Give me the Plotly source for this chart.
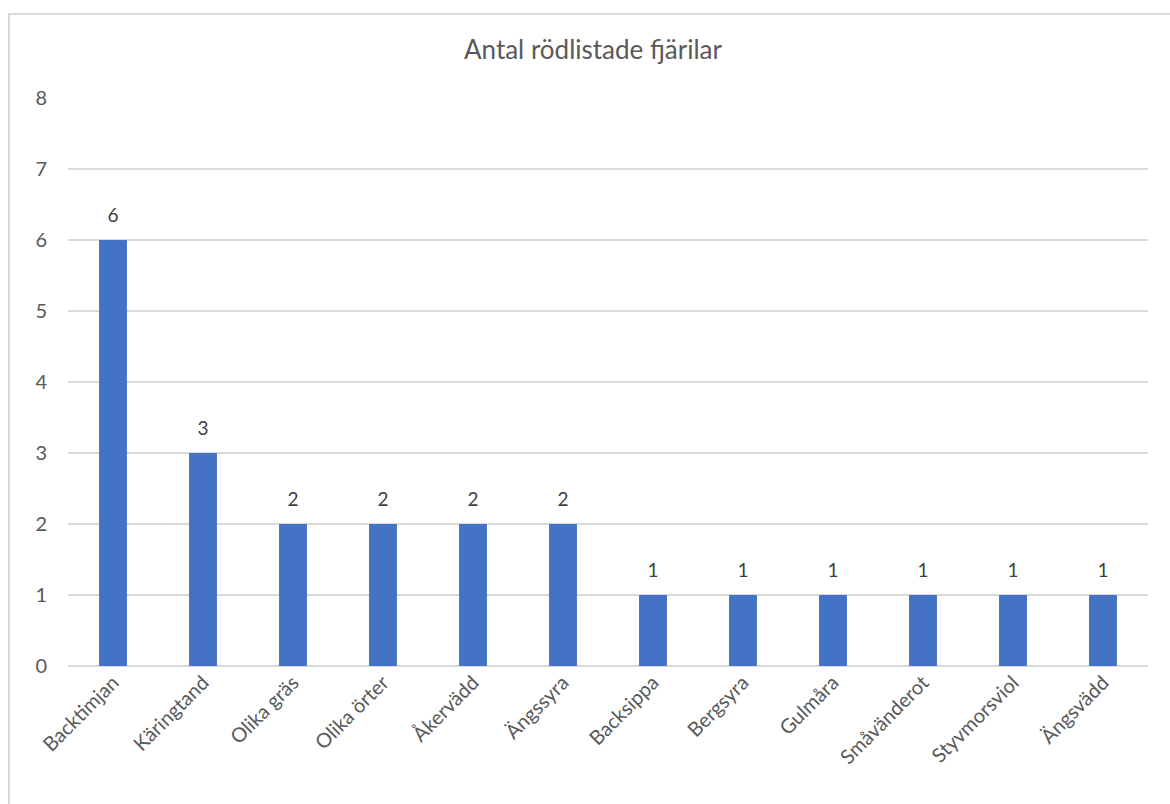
import plotly.graph_objects as go

categories = ["Backtimjan", "Käringtand", "Olika gräs", "Olika örter", "Åkervädd", "Ängssyra",
              "Backsippa", "Bergsyra", "Gulmåra", "Småvänderot", "Styvmorsviol", "Ängsvädd"]
values = [6, 3, 2, 2, 2, 2, 1, 1, 1, 1, 1, 1]
title_text = "Antal rödlistade fjärilar"

FONT = "Lato, 'Open Sans', sans-serif"

fig = go.Figure(go.Bar(
    x=categories, y=values,
    marker=dict(color="#4472C4", line=dict(width=0)),
    width=0.31,
    text=values, textposition="outside",
    texttemplate="<span style='font-size:19px'>%{y}</span><br> ",
    textfont=dict(size=10, color="#404040", family=FONT),
    cliponaxis=False,
))

L, R, T, B = 68, 1148, 98, 666
W, H = 1170, 804
pw, ph = R - L, B - T

def px(x):
    return (x - L) / pw

def py(y):
    return (B - y) / ph

fig.add_shape(type="rect", xref="paper", yref="paper",
              x0=px(9), x1=px(1180), y0=py(820), y1=py(14),
              line=dict(color="#D9D9D9", width=2), fillcolor="rgba(0,0,0,0)", layer="below")

fig.update_layout(
    width=W, height=H,
    margin=dict(l=L, r=W - R, t=T, b=H - B),
    paper_bgcolor="white", plot_bgcolor="white",
    title=dict(text=title_text, x=593 / W, xanchor="center", y=1 - 50 / H, yanchor="middle",
               font=dict(size=26, color="#595959", family=FONT)),
    showlegend=False,
    bargap=0.69,
    xaxis=dict(tickangle=-45, tickfont=dict(size=20, color="#595959", family=FONT),
               showgrid=False, showline=False, ticks="", zeroline=False),
    yaxis=dict(range=[0, 8], dtick=1, tickfont=dict(size=20, color="#595959", family=FONT),
               showgrid=True, gridcolor="#D9D9D9", gridwidth=1.5,
               zeroline=True, zerolinecolor="#D9D9D9", zerolinewidth=1.5,
               showline=False, ticks="", ticklabelstandoff=20),
)

fig.write_html("out.html")
